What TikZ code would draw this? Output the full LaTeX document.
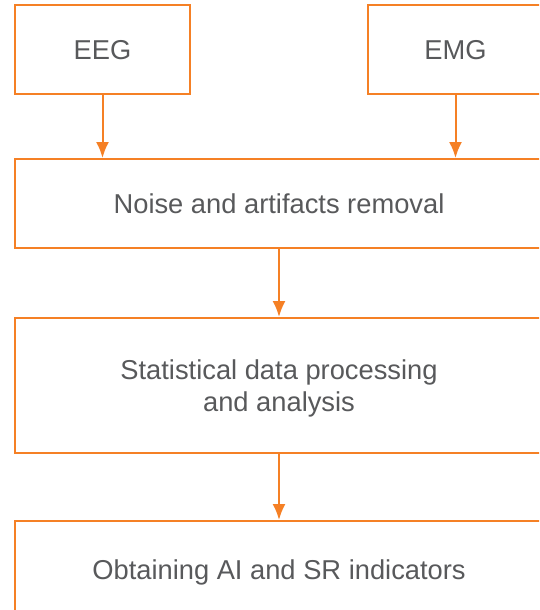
\documentclass[tikz,border=0pt]{standalone}
\usepackage{fontspec}
\setmainfont{Liberation Sans}
\usetikzlibrary{arrows.meta}

\definecolor{flow}{RGB}{245,128,37}
\definecolor{txt}{RGB}{88,89,91}

\begin{document}
\begin{tikzpicture}[x=1pt,y=-1pt,>={Latex[length=16pt,width=13pt]},
  box/.style={draw=flow, line width=2pt, rectangle, inner sep=0pt, text=txt,
    text depth=0pt, font=\fontsize{27.3}{32.4}\selectfont, align=center},
  link/.style={draw=flow, line width=2pt, ->}]
\useasboundingbox (0,0) rectangle (539,610);
\clip (0,0) rectangle (539,610);

\node[box, minimum width=175pt, minimum height=88pt] (eeg) at (102.5,49.5) {EEG};
\node[box, minimum width=175pt, minimum height=88pt] (emg) at (455.5,49.5) {EMG};
\node[box, minimum width=528pt, minimum height=89pt] (noise) at (279,203.5) {Noise and artifacts removal};
\node[box, minimum width=528pt, minimum height=135pt] (stat) at (279,385.5) {Statistical data processing\\and analysis};
\node[box, minimum width=528pt, minimum height=98pt] (obtain) at (279,570) {Obtaining AI and SR indicators};

\draw[link] (eeg.south) -- (eeg.south |- noise.north);
\draw[link] (emg.south) -- (emg.south |- noise.north);
\draw[link] (noise.south) -- (stat.north);
\draw[link] (stat.south) -- (obtain.north);
\end{tikzpicture}
\end{document}
